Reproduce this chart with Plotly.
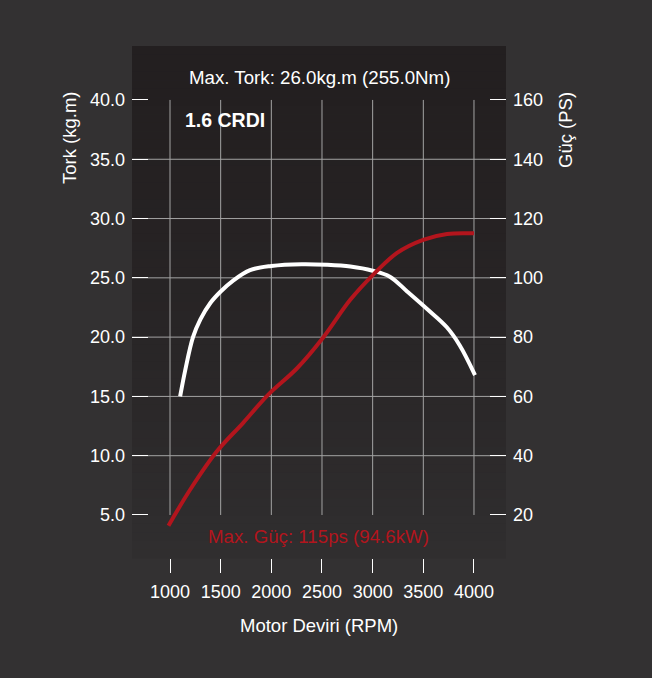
import plotly.graph_objects as go

# ---- data ----
rpm_torque = [1100, 1150, 1227, 1300, 1400, 1500, 1620, 1790, 2000, 2300, 2550, 2780, 3000, 3170, 3340, 3540, 3730, 3860, 4010]
torque = [15.0, 17.2, 20.0, 21.5, 22.9, 23.85, 24.75, 25.65, 26.0, 26.15, 26.1, 25.95, 25.6, 25.1, 23.85, 22.35, 20.85, 19.3, 16.8]

rpm_power = [985, 1200, 1461, 1722, 1970, 2254, 2510, 2777, 3004, 3241, 3498, 3734, 4000]
power = [16.4, 28.6, 41.4, 51.1, 60.6, 69.5, 79.8, 92.5, 101.0, 108.4, 112.8, 114.8, 115.0]

x_ticks = [1000, 1500, 2000, 2500, 3000, 3500, 4000]
y_ticks = [5, 10, 15, 20, 25, 30, 35, 40]
y2_ticks = [20, 40, 60, 80, 100, 120, 140, 160]

title_text = "Max. Tork: 26.0kg.m (255.0Nm)"
engine_text = "1.6 CRDI"
power_text = "Max. Güç: 115ps (94.6kW)"

# ---- style ----
W, H = 652, 678
FONT = "Liberation Sans, Arial, Helvetica, sans-serif"
PAPER = "#333132"
PANEL_TOP = (35, 31, 32)
PANEL_BOT = (48, 46, 47)
RED = "#b3151d"
GRID = "#a3a3a3"

L, R, T, B = 132, 506, 46, 558
X_RANGE = [625, 4316]
Y_RANGE = [1.373, 44.55]
Y2_RANGE = [v * 4 for v in Y_RANGE]

def px(x):
    return x / W

def py(y):
    return 1 - y / H

fig = go.Figure()

fig.add_trace(go.Scatter(
    x=rpm_power, y=power, yaxis="y2", mode="lines",
    line=dict(color=RED, width=4, shape="spline", smoothing=1.0),
    hoverinfo="skip", showlegend=False))
fig.add_trace(go.Scatter(
    x=rpm_torque, y=torque, mode="lines",
    line=dict(color="white", width=4, shape="spline", smoothing=1.0),
    hoverinfo="skip", showlegend=False))

shapes = []
# panel gradient
N = 60
for i in range(N):
    t = i / (N - 1)
    c = tuple(round(PANEL_TOP[k] + (PANEL_BOT[k] - PANEL_TOP[k]) * t ** 1.5) for k in range(3))
    y0 = T + (B - T) * i / N
    y1 = T + (B - T) * (i + 1) / N + 0.5
    shapes.append(dict(type="rect", xref="paper", yref="paper",
                       x0=px(L), x1=px(R), y0=py(y1), y1=py(y0),
                       fillcolor="rgb(%d,%d,%d)" % c, line=dict(width=0), layer="below"))
# grid lines
for xv in x_ticks:
    shapes.append(dict(type="line", xref="x", yref="y", x0=xv, x1=xv,
                       y0=y_ticks[0], y1=y_ticks[-1],
                       line=dict(color=GRID, width=1), layer="below"))
for yv in y_ticks[1:-1]:
    shapes.append(dict(type="line", xref="x", yref="y", x0=X_RANGE[0], x1=X_RANGE[1],
                       y0=yv, y1=yv, line=dict(color=GRID, width=1), layer="below"))

annotations = [
    dict(text=title_text, xref="paper", yref="paper", x=px(319), y=py(77),
         showarrow=False, font=dict(family=FONT, size=18.7, color="white"),
         xanchor="center", yanchor="middle"),
    dict(text="<b>" + engine_text + "</b>", xref="paper", yref="paper", x=px(183), y=py(120),
         showarrow=False, font=dict(family=FONT, size=19.5, color="white"),
         xanchor="left", yanchor="middle"),
    dict(text=power_text, xref="paper", yref="paper", x=px(318), y=py(536),
         showarrow=False, font=dict(family=FONT, size=18.7, color=RED),
         xanchor="center", yanchor="middle"),
    dict(text="Tork (kg.m)", xref="paper", yref="paper", x=px(69), y=py(138),
         showarrow=False, textangle=-90, font=dict(family=FONT, size=18.5, color="white"),
         xanchor="center", yanchor="middle"),
    dict(text="Güç (PS)", xref="paper", yref="paper", x=px(565), y=py(130),
         showarrow=False, textangle=-90, font=dict(family=FONT, size=18.5, color="white"),
         xanchor="center", yanchor="middle"),
    dict(text="Motor Deviri (RPM)", xref="paper", yref="paper", x=px(319), y=py(625),
         showarrow=False, font=dict(family=FONT, size=18.5, color="white"),
         xanchor="center", yanchor="middle"),
]

tickfont = dict(family=FONT, size=18, color="white")

fig.update_layout(
    width=W, height=H,
    margin=dict(l=0, r=0, t=0, b=0),
    paper_bgcolor=PAPER, plot_bgcolor="rgba(0,0,0,0)",
    showlegend=False,
    shapes=shapes, annotations=annotations,
    xaxis=dict(domain=[px(L), px(R)], range=X_RANGE, tickvals=x_ticks,
               ticks="outside", ticklen=14, tickcolor="white", tickwidth=1,
               ticklabelstandoff=3,
               showgrid=False, zeroline=False, showline=False, tickfont=tickfont),
    yaxis=dict(domain=[py(B), py(T)], range=Y_RANGE, tickvals=y_ticks,
               ticktext=["%.1f" % v for v in y_ticks],
               ticks="inside", ticklen=16, tickcolor="white", tickwidth=1,
               ticklabelstandoff=6,
               showgrid=False, zeroline=False, showline=False, tickfont=tickfont),
    yaxis2=dict(domain=[py(B), py(T)], range=Y2_RANGE, tickvals=y2_ticks,
                overlaying="y", side="right", anchor="x",
                ticks="inside", ticklen=16, tickcolor="white", tickwidth=1,
                ticklabelstandoff=6,
                showgrid=False, zeroline=False, showline=False, tickfont=tickfont),
)

fig.write_html("out.html")
